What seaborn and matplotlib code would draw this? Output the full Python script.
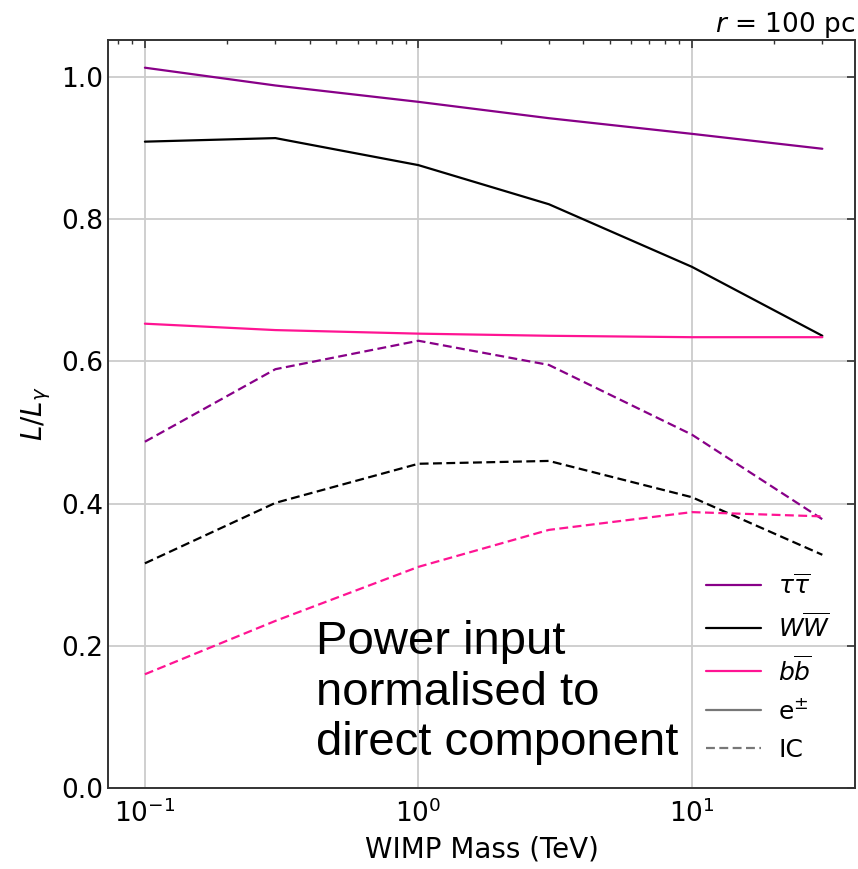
import numpy as np
import pandas as pd
import matplotlib
matplotlib.use("Agg")
import matplotlib.pyplot as plt
from matplotlib.lines import Line2D
import seaborn as sns

# WIMP masses (TeV)
mass = [0.1, 0.3, 1.0, 3.0, 10.0, 30.0]

# Luminosity ratios L/L_gamma, direct e± component
tau_e = [1.013, 0.988, 0.965, 0.942, 0.920, 0.899]
ww_e = [0.909, 0.914, 0.876, 0.821, 0.733, 0.636]
bb_e = [0.653, 0.644, 0.639, 0.636, 0.634, 0.634]

# Inverse-Compton component
tau_ic = [0.487, 0.589, 0.629, 0.595, 0.497, 0.378]
ww_ic = [0.316, 0.401, 0.456, 0.460, 0.409, 0.328]
bb_ic = [0.160, 0.235, 0.311, 0.363, 0.388, 0.382]

channels = [r"$\tau\overline{\tau}$", r"$W\overline{W}$", r"$b\overline{b}$"]
colors = ["#880088", "#000000", "#ff1493"]

rows = []
for ch, e_vals, ic_vals in zip(channels, [tau_e, ww_e, bb_e], [tau_ic, ww_ic, bb_ic]):
    for m, v in zip(mass, e_vals):
        rows.append({"mass": m, "ratio": v, "channel": ch, "component": "e"})
    for m, v in zip(mass, ic_vals):
        rows.append({"mass": m, "ratio": v, "channel": ch, "component": "IC"})
df = pd.DataFrame(rows)

sns.set_style("white")
plt.rcParams["font.family"] = ["DejaVu Sans"]
plt.rcParams["text.color"] = "black"
plt.rcParams["axes.labelcolor"] = "black"
plt.rcParams["xtick.color"] = "black"
plt.rcParams["ytick.color"] = "black"

fig = plt.figure(figsize=(8.58, 8.69), dpi=100)
ax = fig.add_axes([0.1259, 0.0932, 0.8706, 0.8608])

sns.lineplot(
    data=df, x="mass", y="ratio", hue="channel", style="component",
    palette=dict(zip(channels, colors)),
    dashes={"e": "", "IC": (4, 2)},
    hue_order=channels, style_order=["e", "IC"],
    linewidth=1.6, legend=False, ax=ax, sort=False,
)

ax.set_xscale("log")
ax.set_xlim(0.0733, 39.5)
ax.set_ylim(0, 1.052)
ax.set_yticks([0.0, 0.2, 0.4, 0.6, 0.8, 1.0])

ax.grid(True, which="major", color="#cccccc", linewidth=1.3)
ax.set_axisbelow(True)
ax.tick_params(which="both", direction="in", top=True, right=True, labelsize=19,
               color="#333333")
ax.tick_params(which="major", length=6, width=1.2)
ax.tick_params(which="minor", length=3, width=1.0)
ax.tick_params(axis="x", pad=8)
for s in ax.spines.values():
    s.set_color("#333333")
    s.set_linewidth(1.4)

ax.set_xlabel("WIMP Mass (TeV)", fontsize=20, labelpad=6)
ax.set_ylabel(r"$L/L_\gamma$", fontsize=20, labelpad=6)
ax.set_title(r"$r$ = 100 pc", loc="right", fontsize=19, pad=6)

handles = [Line2D([], [], color=c, lw=1.6) for c in colors]
handles += [Line2D([], [], color="#777777", lw=1.6),
            Line2D([], [], color="#777777", lw=1.6, ls=(0, (4, 2)))]
labels = channels + [r"e$^{\pm}$", "IC"]
ax.legend(handles, labels, loc="lower right", frameon=False, fontsize=18,
          handlelength=2.2, labelspacing=0.55, borderaxespad=0.8,
          handletextpad=0.7, bbox_to_anchor=(1.007, -0.005))

ax.text(0.278, 0.225, "Power input\nnormalised to\ndirect component",
        transform=ax.transAxes, ha="left", va="top", fontsize=34,
        family=["Liberation Sans"], linespacing=1.2, color="black")

fig.savefig("out.png", dpi=100)
